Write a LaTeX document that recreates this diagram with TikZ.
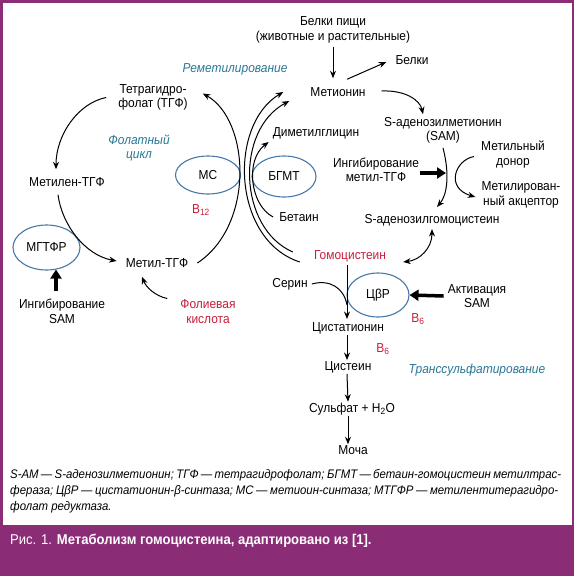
\documentclass[tikz,border=0pt]{standalone}
\usepackage{fontspec}
\setmainfont[FakeStretch=0.92]{Liberation Sans}
\usetikzlibrary{arrows.meta,shapes.geometric}

\definecolor{framepurple}{RGB}{139,44,118}
\definecolor{vitred}{RGB}{200,30,60}
\definecolor{noteteal}{RGB}{40,120,150}
\definecolor{enzblue}{RGB}{70,120,170}

\begin{document}
\begin{tikzpicture}[
    x=1pt,
    y=-1pt,
    every node/.style={font=\fontsize{13}{14.5}\selectfont, inner sep=1pt, align=center},
    note/.style={text=noteteal, font=\fontsize{13}{14.5}\selectfont\itshape},
    vit/.style={text=vitred},
    enz/.style={draw=enzblue, line width=1.1pt, ellipse, inner sep=0pt},
    legend/.style={anchor=west, align=left, font=\fontsize{12.4}{14}\selectfont\itshape},
    arr/.style={line width=1pt, -{Stealth[length=7.5pt,width=6pt]}},
    arrboth/.style={line width=1pt, {Stealth[length=7.5pt,width=6pt]}-{Stealth[length=7.5pt,width=6pt]}},
    bigarr/.style={line width=3.5pt, -{Triangle[length=9pt,width=11pt]}}
]
    \useasboundingbox (0,0) rectangle (574,576);

    % frame and caption band
    \fill[framepurple] (0,0) rectangle (574,576);
    \fill[white] (3,3) rectangle (572,525);

    % remethylation
    \node (food) at (333,30) {Белки пищи\\(животные и растительные)};
    \node (prot) at (412,60) {Белки};
    \node (met) at (338,92) {Метионин};
    \node (sam) at (443,130.5) {S-аденозилметионин\\(SAM)};
    \node (donor) at (513,154.5) {Метильный\\донор};
    \node (accept) at (521,195) {Метилирован-\\ный акцептор};
    \node (inhmt) at (376,170) {Ингибирование\\метил-ТГФ};
    \node (sah) at (432,220) {S-аденозилгомоцистеин};
    \node[note] (remet) at (235,69) {Реметилирование};
    \node (dmg) at (316,133) {Диметилглицин};
    \node (bet) at (299,217) {Бетаин};
    \node[enz, minimum width=65pt, minimum height=38pt] (ms) at (208,175) {МС};
    \node[enz, minimum width=64pt, minimum height=41pt] (bhmt) at (284,176.5) {БГМТ};
    \node[vit] (b12) at (201,210) {B\textsubscript{12}};

    % folate cycle
    \node (thf) at (153,97.5) {Тетрагидро-\\фолат (ТГФ)};
    \node[note] (folc) at (139,148) {Фолатный\\цикл};
    \node (mlthf) at (67,182) {Метилен-ТГФ};
    \node (mthf) at (157,263) {Метил-ТГФ};
    \node[enz, minimum width=67pt, minimum height=45pt] (mthfr) at (46.5,247.5) {МГТФР};
    \node (inhsam) at (62,311.5) {Ингибирование\\SAM};
    \node[vit] (fol) at (208,311.5) {Фолиевая\\кислота};

    % transsulfuration
    \node[vit] (hcy) at (350,256) {Гомоцистеин};
    \node (ser) at (290,284) {Серин};
    \node[enz, minimum width=62pt, minimum height=44pt] (cbs) at (378,295) {ЦβР};
    \node (act) at (477,296) {Активация\\SAM};
    \node[vit] (b6a) at (418,319) {B\textsubscript{6}};
    \node (cysta) at (348,328) {Цистатионин};
    \node[vit] (b6b) at (383,349) {B\textsubscript{6}};
    \node (cys) at (348,367) {Цистеин};
    \node[note] (trans) at (477,370) {Транссульфатирование};
    \node (sulf) at (352,409) {Сульфат + H\textsubscript{2}O};
    \node (urine) at (353,450) {Моча};

    \coordinate (brk) at (446,173);
    \coordinate (join) at (347,305);

    % connectors
    \draw[arr] ([yshift=-3pt]food.south) -- ([yshift=8pt]met.north -| food.south);
    \draw[arr] ([xshift=9pt,yshift=7pt]met.north) -- ([xshift=-8pt,yshift=-2pt]prot.west);
    \draw[arr] ([xshift=15pt,yshift=1pt]met.east) .. controls (405,90) and (420,100) .. ([xshift=-20pt,yshift=2pt]sam.north);
    \draw[arr] ([yshift=-3pt]sam.south) .. controls (450,175) and (447,195) .. ([xshift=5pt,yshift=6pt]sah.north);
    \draw[arr] ([xshift=-6pt,yshift=-2pt]donor.west) .. controls (455,160) and (445,188) .. ([xshift=-5pt,yshift=-2pt]accept.west);
    \draw[bigarr] ([yshift=-3pt]inhmt.east) -- (brk);
    \draw[arrboth] ([yshift=-2pt]sah.south) .. controls (432,248) and (420,260) .. ([xshift=16pt,yshift=-6pt]hcy.east);

    \draw[arr] ([xshift=8pt]mthf.east) .. controls (255,225) and (250,120) .. ([xshift=14pt,yshift=4pt]thf.east);
    \draw[arr] ([xshift=-13pt,yshift=-6pt]hcy.west) .. controls (232,240) and (228,125) .. ([xshift=-26pt]met.west);
    \draw[arr] ([xshift=-20pt,yshift=4pt]hcy.west) .. controls (238,228) and (235,130) .. ([xshift=-20pt,yshift=-9pt]met.west);
    \draw[arr] ([xshift=-5pt]bet.west) .. controls (250,205) and (245,160) .. ([xshift=-3pt,yshift=-9pt]dmg.west);

    \draw[arr] ([xshift=-11pt]thf.west) .. controls (78,103) and (56,135) .. ([xshift=-11pt,yshift=7pt]mlthf.north);
    \draw[arr] ([xshift=-9pt,yshift=-7pt]mlthf.south) .. controls (62,225) and (85,255) .. ([xshift=-8pt,yshift=2pt]mthf.west);
    \draw[arr] ([xshift=-12pt,yshift=13pt]fol.west) .. controls (155,296) and (146,287) .. ([xshift=-15pt,yshift=-8pt]mthf.south);
    \draw[bigarr] ([xshift=-6pt,yshift=7pt]inhsam.north) -- ([xshift=9.5pt,yshift=1pt]mthfr.south);

    \draw[arr] ([xshift=-3pt,yshift=-2pt]hcy.south) -- ([xshift=-1pt,yshift=2pt]cysta.north);
    \draw[line width=1pt] ([xshift=3pt]ser.east) .. controls (330,279) and (344,288) .. (join);
    \draw[bigarr] ([xshift=-3pt]act.west) -- (cbs.east);
    \draw[arr] ([xshift=-1pt]cysta.south) -- ([xshift=-1pt]cys.north);
    \draw[arr] ([xshift=-1pt]cys.south) -- ([xshift=-4pt]sulf.north);
    \draw[arr] ([xshift=-4pt]sulf.south) -- ([xshift=-5pt]urine.north);

    % legend and caption
    \node[legend] (leg1) at (9,475) {\makebox[551pt][s]{S-AM — S-аденозилметионин; ТГФ — тетрагидрофолат; БГМТ — бетаин-гомоцистеин метилтрас-}};
    \node[legend] (leg2) at (9,491) {\makebox[548pt][s]{фераза; ЦβР — цистатионин-β-синтаза; МС — метиоин-синтаза; МТГФР — метилентитерагидро-}};
    \node[legend] (leg3) at (9,507) {фолат редуктаза.};
    \node[anchor=west, text=white, font=\fontsize{14.2}{16}\selectfont] (cap) at (9,541) {Рис. 1. \textbf{Метаболизм гомоцистеина, адаптировано из [1].}};

\end{tikzpicture}
\end{document}
